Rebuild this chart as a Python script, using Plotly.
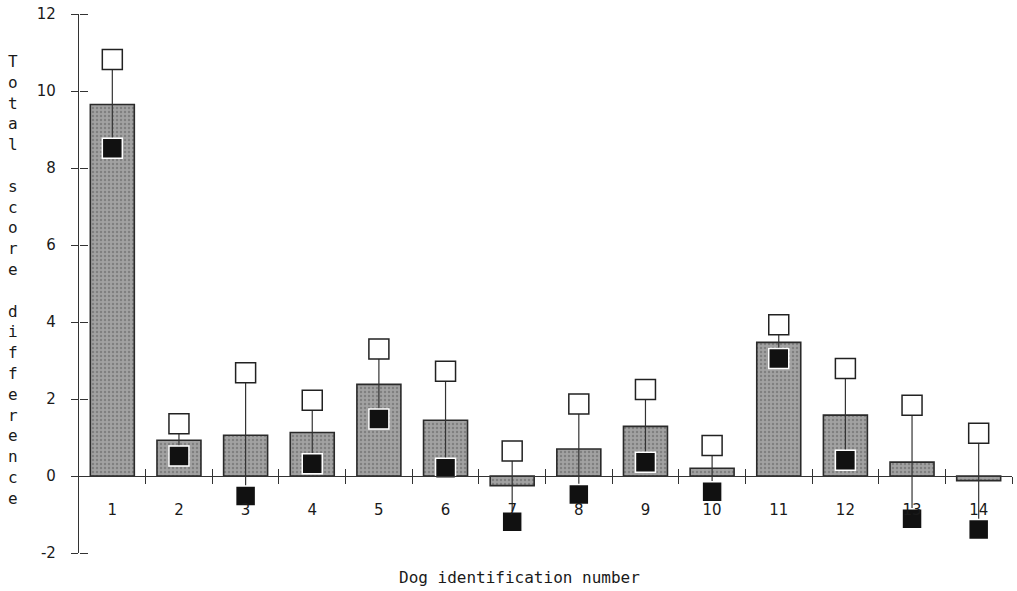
import plotly.graph_objects as go

dogs = list(range(1, 15))
dog_labels = [str(d) for d in dogs]
mean_diff = [9.65, 0.93, 1.06, 1.13, 2.38, 1.45, -0.25, 0.70, 1.29, 0.20, 3.47, 1.58, 0.36, -0.12]
upper_val = [10.82, 1.36, 2.68, 1.97, 3.30, 2.72, 0.65, 1.87, 2.25, 0.79, 3.93, 2.79, 1.84, 1.11]
lower_val = [8.51, 0.52, -0.52, 0.32, 1.48, 0.20, -1.19, -0.48, 0.36, -0.41, 3.05, 0.41, -1.11, -1.39]
y_ticks = [-2, 0, 2, 4, 6, 8, 10, 12]
y_tick_text = ["-2", "0", "2", "4", "6", "8", "10", "12"]

FONT = "DejaVu Sans Mono"
TICKFONT = "DejaVu Sans"
INK = "#1a1a1a"

fig = go.Figure()

fig.add_trace(go.Bar(
    x=dogs, y=mean_diff,
    marker=dict(color="#a2a2a2", line=dict(color="#2a2a2a", width=1.6),
                pattern=dict(shape=".", fgcolor="#5e5e5e", size=4, solidity=0.3,
                             fillmode="overlay")),
    width=0.66, showlegend=False, hoverinfo="skip",
))

# connecting vertical lines
lx, ly = [], []
for d, u, l in zip(dogs, upper_val, lower_val):
    lx += [d, d, None]
    ly += [u, l, None]
fig.add_trace(go.Scatter(x=lx, y=ly, mode="lines",
                         line=dict(color="#333333", width=1.2),
                         showlegend=False, hoverinfo="skip"))

fig.add_trace(go.Scatter(x=dogs, y=upper_val, mode="markers",
                         marker=dict(symbol="square", size=20, color="white",
                                     line=dict(color="#222222", width=1.5)),
                         showlegend=False))
fig.add_trace(go.Scatter(x=dogs, y=lower_val, mode="markers",
                         marker=dict(symbol="square", size=20, color="#111111",
                                     line=dict(color="white", width=1.5)),
                         showlegend=False))

# empty helper trace so the overlaid tick axes are drawn
fig.add_trace(go.Scatter(x=[None], y=[None], xaxis="x2", yaxis="y2",
                         mode="markers", showlegend=False, hoverinfo="skip"))

zero_pos = 2 / 14
boundaries = [d + 0.5 for d in dogs]

fig.update_layout(
    width=1017, height=591,
    margin=dict(l=79, r=5, t=12, b=38),
    paper_bgcolor="white", plot_bgcolor="white",
    font=dict(family=TICKFONT, size=15, color=INK),
    xaxis=dict(range=[0.5, 14.5], tickmode="array", tickvals=dogs, ticktext=dog_labels,
               ticks="", showgrid=False, zeroline=False, showline=True,
               linecolor="#333333", linewidth=1.2, anchor="free", position=zero_pos,
               ticklabelstandoff=20, tickfont=dict(family=TICKFONT, size=15, color=INK),
               minor=dict(tickmode="array", tickvals=boundaries, ticks="outside",
                          ticklen=7, tickwidth=1.2, tickcolor="#333333", showgrid=False)),
    xaxis2=dict(range=[0.5, 14.5], overlaying="x", anchor="free", position=zero_pos,
                tickmode="array", tickvals=boundaries, ticks="inside", ticklen=7,
                tickwidth=1.2, tickcolor="#333333", showticklabels=False,
                showgrid=False, zeroline=False, showline=False),
    yaxis=dict(range=[-2, 12], tickmode="array", tickvals=y_ticks, ticktext=y_tick_text,
               ticks="outside", ticklen=7, tickwidth=1.2, tickcolor="#333333",
               showgrid=False, zeroline=False, showline=True, linecolor="#333333",
               linewidth=1.2, ticklabelstandoff=12,
               tickfont=dict(family=TICKFONT, size=15, color=INK)),
    yaxis2=dict(range=[-2, 12], overlaying="y", anchor="free", position=0, side="right",
                tickmode="array", tickvals=y_ticks, ticks="outside", ticklen=8,
                tickwidth=1.2, tickcolor="#333333", showticklabels=False,
                showgrid=False, zeroline=False, showline=False),
    bargap=0.34,
)

ytitle = "<br>".join(list("Total") + ["\u00a0"] + list("score") + ["\u00a0"] + list("difference"))
fig.add_annotation(text=ytitle, xref="paper", yref="paper", x=0, xshift=-66,
                   y=(553 - 278.5) / 541, xanchor="center", yanchor="middle",
                   showarrow=False, font=dict(family=FONT, size=16, color=INK))
fig.add_annotation(text="Dog identification number", xref="paper", yref="paper",
                   x=(519 - 79) / 933, y=(553 - 578) / 541, xanchor="center",
                   yanchor="middle", showarrow=False,
                   font=dict(family=FONT, size=16, color=INK))

fig.write_html("out.html")
